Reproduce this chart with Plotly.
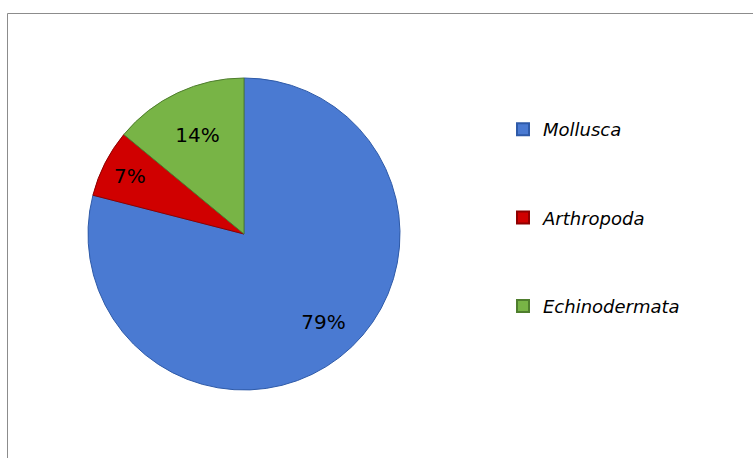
import plotly.graph_objects as go

labels = ["Mollusca", "Arthropoda", "Echinodermata"]
values = [79, 7, 14]
colors = ["#4A7AD2", "#D00000", "#78B446"]
edge_colors = ["#2E5AA8", "#8E0000", "#4F7E2E"]

W, H = 753, 458

fig = go.Figure()
fig.add_trace(go.Pie(
    labels=labels, values=values, sort=False, direction="clockwise", rotation=0,
    marker=dict(colors=colors, line=dict(color=edge_colors, width=1)),
    textinfo="percent",
    texttemplate=["&nbsp;<br>&nbsp;<br>" + "&nbsp;" * 10 + "%{percent:.0%}",
                  "%{percent:.0%}", "%{percent:.0%}"],
    textposition="inside", insidetextorientation="horizontal",
    textfont=dict(family="DejaVu Sans", size=20, color="#000000"),
    domain=dict(x=[88 / W, 400 / W], y=[(H - 390) / H, (H - 78) / H]),
    showlegend=False, hoverinfo="label+percent",
))

for lab, col, ec in zip(labels, colors, edge_colors):
    fig.add_trace(go.Scatter(
        x=[None], y=[None], mode="markers", name="<i>" + lab + "</i>", legendgroup=lab,
        marker=dict(symbol="square", size=12, color=col, line=dict(color=ec, width=1)),
    ))

fig.update_layout(
    width=W, height=H,
    margin=dict(l=0, r=0, t=0, b=0),
    paper_bgcolor="#FFFFFF", plot_bgcolor="#FFFFFF",
    xaxis=dict(visible=False), yaxis=dict(visible=False),
    legend=dict(
        x=503 / W, y=(H - 111) / H, xanchor="left", yanchor="top",
        font=dict(family="DejaVu Sans", size=18, color="#000000"),
        tracegroupgap=62, bgcolor="rgba(0,0,0,0)",
        itemsizing="constant",
    ),
    shapes=[dict(type="rect", xref="paper", yref="paper",
                 x0=7.5 / W, x1=1.2, y0=-0.2, y1=(H - 13.5) / H,
                 line=dict(color="#8C8C8C", width=1), fillcolor="rgba(0,0,0,0)",
                 layer="below")],
)

fig.write_html("out.html")
